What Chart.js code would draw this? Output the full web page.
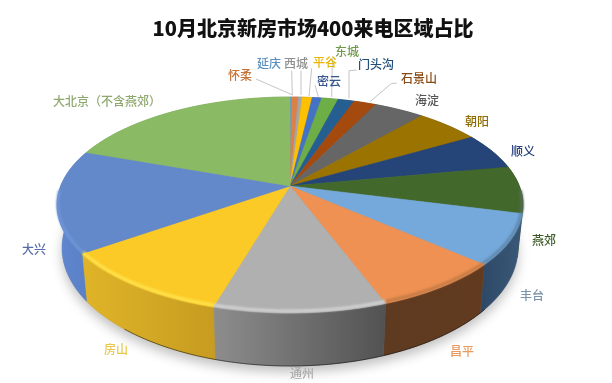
<!DOCTYPE html>
<html lang="zh">
<head>
<meta charset="utf-8">
<style>html,body{margin:0;padding:0;background:#fff}canvas{display:block}</style>
<script src="https://cdn.jsdelivr.net/npm/chart.js@4"></script>
</head>
<body>
<canvas id="c" width="612" height="383"></canvas>
<script>
const titleText = '10月北京新房市场400来电区域占比';
const categories = ['延庆','怀柔','西城','平谷','密云','东城','门头沟','石景山','海淀','朝阳','顺义','燕郊','丰台','昌平','通州','房山','大兴','大北京（不含燕郊）'];
const shares = [0.12,0.56,0.32,0.82,0.77,1.37,1.31,1.86,4.14,5.28,5.47,7.06,7.5,7.8,10.14,10.67,15.39,19.5];

const faceColors = ['#5B9BD5','#D98148','#A5A5A5','#FFC000','#4472C4','#6DAE47','#255E91','#A54A0E','#666666','#9A7300','#254478','#43682B','#75A9DB','#EE9152','#B0B0B0','#FCCA26','#6389CB','#8ABB64'];
const wallLeft = ['#46749f','#a85f30','#777','#b88a00','#33558f','#507f33','#1b4468','#74340a','#484848','#6e5300','#1a3056','#2d4a1c','#2f4a68','#5e3a20','#8d8d8d','#E0B428','#6088D0','#6d9a4d'];
const wallRight = ['#46749f','#a85f30','#777','#b88a00','#33558f','#507f33','#1b4468','#74340a','#484848','#6e5300','#1a3056','#2d4a1c','#3a5878','#623b1f','#525252','#C79C20','#5A80C6','#6d9a4d'];
const bevelColors = ['#5B9BD5','#D98148','#A5A5A5','#FFC000','#4472C4','#6DAE47','#255E91','#A54A0E','#666666','#9A7300','#254478','#566a5a','#5f87ac','#c47a45','#d2d2d2','#FFE34D','#6f95d6','#8ABB64'];
const labelColors = ['#5B8FC0','#C5743A','#8f8f8f','#E8B500','#34558f','#6f9a4a','#1f4e79','#8a4a14','#555555','#8f6d00','#26407a','#3d5a26','#7c93ac','#E89a5f','#aaaaaa','#E9C84a','#5a6ca8','#8fa86e'];
const labelCenters = [[269,63],[240,75],[296,63],[325,62],[329,81],[347,51],[376,64],[419,78],[427,100],[477,121],[523,151],[544,240],[532,295],[462,351],[302,373],[116,349],[34,249],[107,101]];
const leaderLines = [
  [[256,79],[292.7,95]],
  [[291.7,70.7],[292.3,95]],
  [[301,70.7],[301,95]],
  [[311.7,68.3],[309,96]],
  [[315,85],[318.3,96.7]],
  [[332.3,58.3],[331.7,97]],
  [[356.7,70],[349,70.7],[349,98.3]],
  [[396.7,83.3],[391.7,83.3],[370,101.7]]
];

const topEllipse = {cx:290, cy:205, rx:233, ry:108};
const baseEllipse = {cx:290, cy:248, rx:228, ry:118};
const tilt = -0.176;
const tiltScale = Math.sqrt(1 - tilt * tilt);

function project(theta, e, k) {
  const u = k * Math.cos(theta), v = k * Math.sin(theta);
  const w = 1 + tilt * v;
  return [e.cx + e.rx * u * tiltScale / w, e.cy + e.ry * (v + tilt) / w];
}
function arcPoints(a0, a1, e) {
  const n = Math.max(2, Math.ceil(Math.abs(a1 - a0) / (Math.PI / 180)));
  const pts = [];
  for (let i = 0; i <= n; i++) pts.push(project(a0 + (a1 - a0) * i / n, e, 1));
  return pts;
}
function trace(ctx, pts, move) {
  pts.forEach((p, i) => (i === 0 && move) ? ctx.moveTo(p[0], p[1]) : ctx.lineTo(p[0], p[1]));
}

const pie3d = {
  id: 'pie3d',
  beforeDatasetsDraw(chart) {
    const ctx = chart.ctx;
    const arcs = chart.getDatasetMeta(0).data;
    ctx.save();

    // soft ground shadow
    ctx.save();
    ctx.shadowColor = 'rgba(0,0,0,0.25)';
    ctx.shadowBlur = 12;
    ctx.shadowOffsetY = 6;
    ctx.fillStyle = '#999';
    ctx.beginPath();
    trace(ctx, arcPoints(0, Math.PI * 2, baseEllipse), true);
    ctx.closePath();
    ctx.fill();
    ctx.restore();

    // side walls
    arcs.forEach((arc, i) => {
      const top = arcPoints(arc.startAngle, arc.endAngle, topEllipse);
      const base = arcPoints(arc.startAngle, arc.endAngle, baseEllipse);
      const xs = top.map(p => p[0]);
      const x0 = Math.min(...xs), x1 = Math.max(...xs);
      const g = ctx.createLinearGradient(x0, 0, Math.max(x1, x0 + 1), 0);
      g.addColorStop(0, wallLeft[i]);
      g.addColorStop(1, wallRight[i]);
      ctx.fillStyle = g;
      ctx.strokeStyle = g;
      ctx.lineWidth = 0.5;
      ctx.beginPath();
      trace(ctx, top, true);
      trace(ctx, base.slice().reverse(), false);
      ctx.closePath();
      ctx.fill();
      ctx.stroke();
    });

    // dark foot under the front of the wall
    ctx.strokeStyle = 'rgba(0,0,0,0.5)';
    ctx.lineWidth = 1;
    ctx.beginPath();
    trace(ctx, arcPoints(Math.PI * 0.22, Math.PI * 0.72, baseEllipse), true);
    ctx.stroke();

    // top faces
    arcs.forEach((arc, i) => {
      const rim = arcPoints(arc.startAngle, arc.endAngle, topEllipse);
      const apex = project(0, topEllipse, 0);
      ctx.fillStyle = faceColors[i];
      ctx.strokeStyle = faceColors[i];
      ctx.lineWidth = 0.5;
      ctx.beginPath();
      ctx.moveTo(apex[0], apex[1]);
      trace(ctx, rim, false);
      ctx.closePath();
      ctx.fill();
      ctx.stroke();
    });

    // bevel along the front rim only
    ctx.save();
    ctx.filter = 'blur(1px)';
    ctx.lineWidth = 3;
    const bevelEllipse = {cx: topEllipse.cx, cy: topEllipse.cy - 1, rx: topEllipse.rx - 1, ry: topEllipse.ry - 1};
    arcs.forEach((arc, i) => {
      const a0 = Math.max(arc.startAngle, 0.05);
      const a1 = Math.min(arc.endAngle, Math.PI - 0.05);
      if (a1 <= a0) return;
      ctx.strokeStyle = bevelColors[i];
      ctx.beginPath();
      trace(ctx, arcPoints(a0, a1, bevelEllipse), true);
      ctx.stroke();
    });
    ctx.restore();

    // leader lines
    ctx.strokeStyle = '#c4c4c4';
    ctx.lineWidth = 1;
    leaderLines.forEach(line => {
      ctx.beginPath();
      trace(ctx, line, true);
      ctx.stroke();
    });

    // category labels
    ctx.font = '500 12px "Noto Sans CJK SC"';
    ctx.textAlign = 'center';
    ctx.textBaseline = 'middle';
    categories.forEach((name, i) => {
      ctx.fillStyle = labelColors[i];
      ctx.fillText(name, labelCenters[i][0], labelCenters[i][1]);
    });

    ctx.restore();
    return false;
  }
};

new Chart(document.getElementById('c'), {
  type: 'pie',
  data: {
    labels: categories,
    datasets: [{ data: shares, backgroundColor: faceColors, borderWidth: 0 }]
  },
  options: {
    responsive: false,
    animation: false,
    devicePixelRatio: 1,
    layout: { padding: { left: 14, top: 0 } },
    plugins: {
      legend: { display: false },
      tooltip: { enabled: false },
      title: {
        display: true,
        text: titleText,
        fullSize: false,
        color: '#111',
        padding: { top: 16, bottom: 6 },
        font: { family: '"Noto Sans CJK SC"', size: 20, weight: '900' }
      }
    }
  },
  plugins: [pie3d]
});
</script>
</body>
</html>
